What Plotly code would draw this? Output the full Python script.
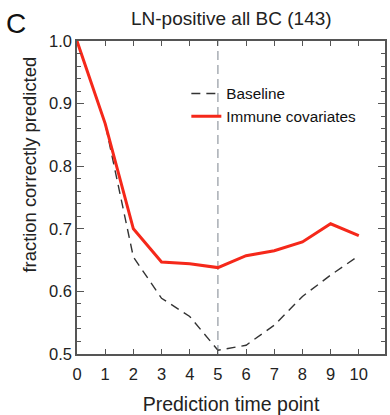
import plotly.graph_objects as go

time_points = [0, 1, 2, 3, 4, 5, 6, 7, 8, 9, 10]
baseline = [1.0, 0.868, 0.655, 0.589, 0.560, 0.506, 0.514, 0.546, 0.592, 0.626, 0.657]
immune = [1.0, 0.868, 0.700, 0.647, 0.644, 0.638, 0.657, 0.665, 0.679, 0.708, 0.689]
x_ticks = list(range(0, 11))
y_ticks = [0.5, 0.6, 0.7, 0.8, 0.9, 1.0]
split_point = 5

FONT = "Liberation Sans, Arial, sans-serif"

fig = go.Figure()
fig.add_trace(go.Scatter(x=time_points, y=baseline, mode="lines", name="Baseline",
                         line=dict(color="#333333", width=1.4, dash="9px,6px")))
fig.add_trace(go.Scatter(x=time_points, y=immune, mode="lines", name="Immune covariates",
                         line=dict(color="#f5281a", width=3)))

fig.add_shape(type="line", x0=split_point, x1=split_point, y0=0, y1=1, xref="x", yref="paper",
              line=dict(color="#9aa0a8", width=1.3, dash="9px,5px"), layer="below")

axis_common = dict(showline=True, linecolor="#555555", linewidth=1.5, mirror="ticks",
                   ticks="inside", tickcolor="#555555", showgrid=False, zeroline=False,
                   automargin=False,
                   tickfont=dict(family=FONT, size=16.5, color="#222222"))

fig.update_xaxes(range=[0, 10.93], tickvals=x_ticks, ticklen=5, tickwidth=1.3, ticklabelstandoff=4,
                 title=dict(text="Prediction time point", font=dict(family=FONT, size=19.5, color="#222222"), standoff=18),
                 **axis_common)
fig.update_yaxes(range=[0.5, 1.0], tickvals=y_ticks, tickformat=".1f", ticklen=7, tickwidth=1.3,
                 minor=dict(dtick=0.02, ticks="inside", ticklen=4, tickcolor="#555555", tickwidth=1.2, showgrid=False),
                 **axis_common)

fig.update_layout(
    width=390, height=415,
    margin=dict(l=77, r=5, t=41, b=61),
    plot_bgcolor="white", paper_bgcolor="white",
    showlegend=True,
    legend=dict(x=0.355, y=0.885, xanchor="left", yanchor="top", bgcolor="rgba(0,0,0,0)",
                font=dict(family=FONT, size=15.3, color="#111111"), tracegroupgap=0, itemwidth=30),
    annotations=[
        dict(text="LN-positive all BC (143)", x=0.5, y=1, xref="paper", yref="paper", xanchor="center",
             yanchor="middle", yshift=23, showarrow=False, font=dict(family=FONT, size=19, color="#222222")),
        dict(text="C", x=-0.2, y=1, xref="paper", yref="paper", xanchor="center", yanchor="middle",
             xshift=1, yshift=18, showarrow=False, font=dict(family=FONT, size=28, color="#111111")),
        dict(text="fraction correctly predicted", textangle=-90, x=-0.1526, y=0.5,
             xref="paper", yref="paper", xanchor="center", yanchor="middle", yshift=33,
             showarrow=False, font=dict(family=FONT, size=18.4, color="#222222")),
    ],
)

fig.write_html("out.html")
